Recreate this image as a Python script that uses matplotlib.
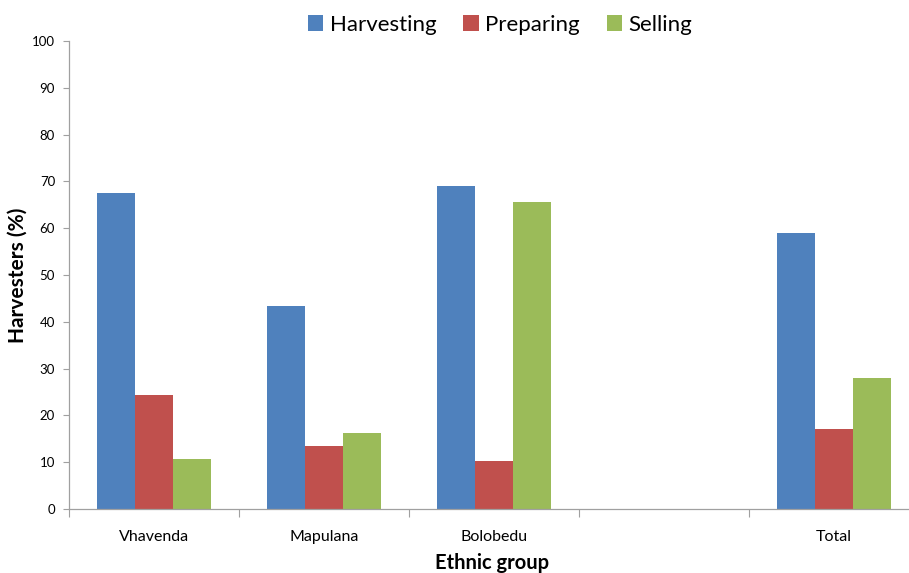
import matplotlib
matplotlib.use("Agg")
import matplotlib.pyplot as plt
import numpy as np

categories = ["Vhavenda", "Mapulana", "Bolobedu", "", "Total"]
harvesting = [67.6, 43.3, 69.1, np.nan, 59.0]
preparing = [24.3, 13.5, 10.3, np.nan, 17.0]
selling = [10.7, 16.2, 65.5, np.nan, 27.9]
series_names = ["Harvesting", "Preparing", "Selling"]
colors = ["#4F81BD", "#C0504D", "#9BBB59"]

plt.rcParams['font.family'] = ['Lato', 'DejaVu Sans']

fig = plt.figure(figsize=(9.09, 5.73), dpi=100)
ax_w = 850
ax = fig.add_axes([69/909, 1-509/573, ax_w/909, (509-41)/573])

x = np.arange(len(categories))
w = 0.222
handles = []
for i, (vals, name, c) in enumerate(zip([harvesting, preparing, selling], series_names, colors)):
    b = ax.bar(x + (i-1)*w, vals, width=w, color=c, label=name, edgecolor='none')
    handles.append(b)

ax.set_xlim(-0.5, len(categories)-0.5)
ax.set_ylim(0, 100)
ax.set_yticks(np.arange(0, 101, 10))
ax.set_xticks(np.arange(-0.5, len(categories)+0.5, 1))
ax.set_xticklabels([])
ax.set_xticks(x, minor=True)
ax.set_xticklabels(categories, minor=True)
ax.tick_params(axis='x', which='minor', length=0, labelsize=11.5, pad=15)
ax.tick_params(axis='x', which='major', length=6, color='#A0A0A0', width=0.8)
ax.tick_params(axis='y', length=4, color='#A0A0A0', width=0.8, labelsize=9.5, pad=6)
for s in ['top', 'right']:
    ax.spines[s].set_visible(False)
for s in ['left', 'bottom']:
    ax.spines[s].set_color('#A0A0A0')
    ax.spines[s].set_linewidth(0.9)

ax.set_ylabel("Harvesters (%)", fontsize=15, fontweight='bold')
ax.yaxis.set_label_coords(-51/ax_w, 0.5)
ax.set_xlabel("Ethnic group", fontsize=14.5, fontweight='bold')
ax.xaxis.set_label_coords((492-69)/ax_w, -(563-509)/468)
ax.xaxis.label.set_va('center')
ax.yaxis.label.set_va('center')

fig.legend(handles=handles, labels=series_names, loc='center', bbox_to_anchor=(500/909, 1-25/573),
           ncol=3, frameon=False, fontsize=16, handlelength=0.7, handleheight=0.7,
           handletextpad=0.3, columnspacing=1.2)

fig.savefig("out.png", dpi=100)
